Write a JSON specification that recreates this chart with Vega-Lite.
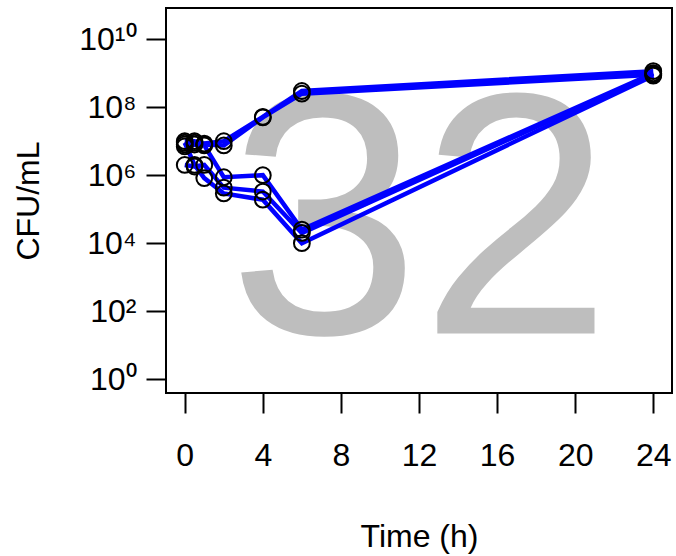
{
  "$schema": "https://vega.github.io/schema/vega-lite/v6.json",
  "autosize": "none",
  "width": 506,
  "height": 385,
  "padding": {"left": 166, "top": 8, "right": 4, "bottom": 163},
  "background": "white",
  "config": {
    "view": {"stroke": "black", "strokeWidth": 2},
    "font": "Liberation Sans",
    "axis": {
      "labelFont": "Liberation Sans",
      "titleFont": "Liberation Sans",
      "labelColor": "black",
      "titleColor": "black",
      "tickColor": "black",
      "tickWidth": 2,
      "grid": false,
      "domain": false,
      "labelFontSize": 32,
      "titleFontSize": 32,
      "titleFontWeight": "normal",
      "tickSize": 20
    }
  },
  "datasets": {
    "obs": [
      {"series": "A", "t": 0, "cfu": 10000000},
      {"series": "A", "t": 0.5, "cfu": 10000000},
      {"series": "A", "t": 1, "cfu": 8500000},
      {"series": "A", "t": 2, "cfu": 10000000},
      {"series": "A", "t": 4, "cfu": 52000000},
      {"series": "A", "t": 6, "cfu": 300000000},
      {"series": "A", "t": 24, "cfu": 1150000000},
      {"series": "B", "t": 0, "cfu": 8000000},
      {"series": "B", "t": 0.5, "cfu": 9000000},
      {"series": "B", "t": 1, "cfu": 8000000},
      {"series": "B", "t": 2, "cfu": 7500000},
      {"series": "B", "t": 4, "cfu": 50000000},
      {"series": "B", "t": 6, "cfu": 250000000},
      {"series": "B", "t": 24, "cfu": 900000000},
      {"series": "C", "t": 0, "cfu": 7000000},
      {"series": "C", "t": 0.5, "cfu": 8000000},
      {"series": "C", "t": 1, "cfu": 7500000},
      {"series": "C", "t": 2, "cfu": 870000},
      {"series": "C", "t": 4, "cfu": 1000000},
      {"series": "C", "t": 6, "cfu": 25000},
      {"series": "C", "t": 24, "cfu": 1000000000},
      {"series": "D", "t": 0, "cfu": 2000000},
      {"series": "D", "t": 0.5, "cfu": 1800000},
      {"series": "D", "t": 1, "cfu": 2000000},
      {"series": "D", "t": 2, "cfu": 430000},
      {"series": "D", "t": 4, "cfu": 330000},
      {"series": "D", "t": 6, "cfu": 20000},
      {"series": "D", "t": 24, "cfu": 950000000},
      {"series": "E", "t": 0, "cfu": 9000000},
      {"series": "E", "t": 0.5, "cfu": 2000000},
      {"series": "E", "t": 1, "cfu": 820000},
      {"series": "E", "t": 2, "cfu": 290000},
      {"series": "E", "t": 4, "cfu": 190000},
      {"series": "E", "t": 6, "cfu": 10000},
      {"series": "E", "t": 24, "cfu": 850000000}
    ],
    "mark32": [{"t": 12.05, "cfu": 22, "label": "32"}]
  },
  "encoding": {
    "x": {
      "field": "t",
      "type": "quantitative",
      "scale": {"domain": [-0.96, 24.96], "nice": false, "zero": false},
      "axis": {
        "values": [0, 4, 8, 12, 16, 20, 24],
        "title": "Time (h)",
        "labelPadding": 27,
        "titlePadding": 50
      }
    },
    "y": {
      "field": "cfu",
      "type": "quantitative",
      "scale": {"type": "log", "domain": [0.39, 83000000000], "nice": false},
      "axis": {
        "values": [1, 100, 10000, 1000000, 100000000, 10000000000],
        "labelExpr": "'10' + ['⁰','²','⁴','⁶','⁸','¹⁰'][round(log(datum.value)/LN10/2)]",
        "title": "CFU/mL",
        "labelPadding": 10,
        "titlePadding": 33
      }
    }
  },
  "layer": [
    {
      "data": {"name": "mark32"},
      "mark": {"type": "text", "fontSize": 345, "color": "#BEBEBE", "align": "center", "baseline": "alphabetic", "font": "Liberation Sans"},
      "encoding": {"text": {"field": "label"}}
    },
    {
      "data": {"name": "obs"},
      "mark": {"type": "line", "color": "#0000FF", "strokeWidth": 4.5},
      "encoding": {"detail": {"field": "series"}}
    },
    {
      "data": {"name": "obs"},
      "mark": {"type": "point", "shape": "circle", "filled": false, "color": "black", "strokeWidth": 2, "size": 250, "opacity": 1},
      "encoding": {}
    }
  ]
}
